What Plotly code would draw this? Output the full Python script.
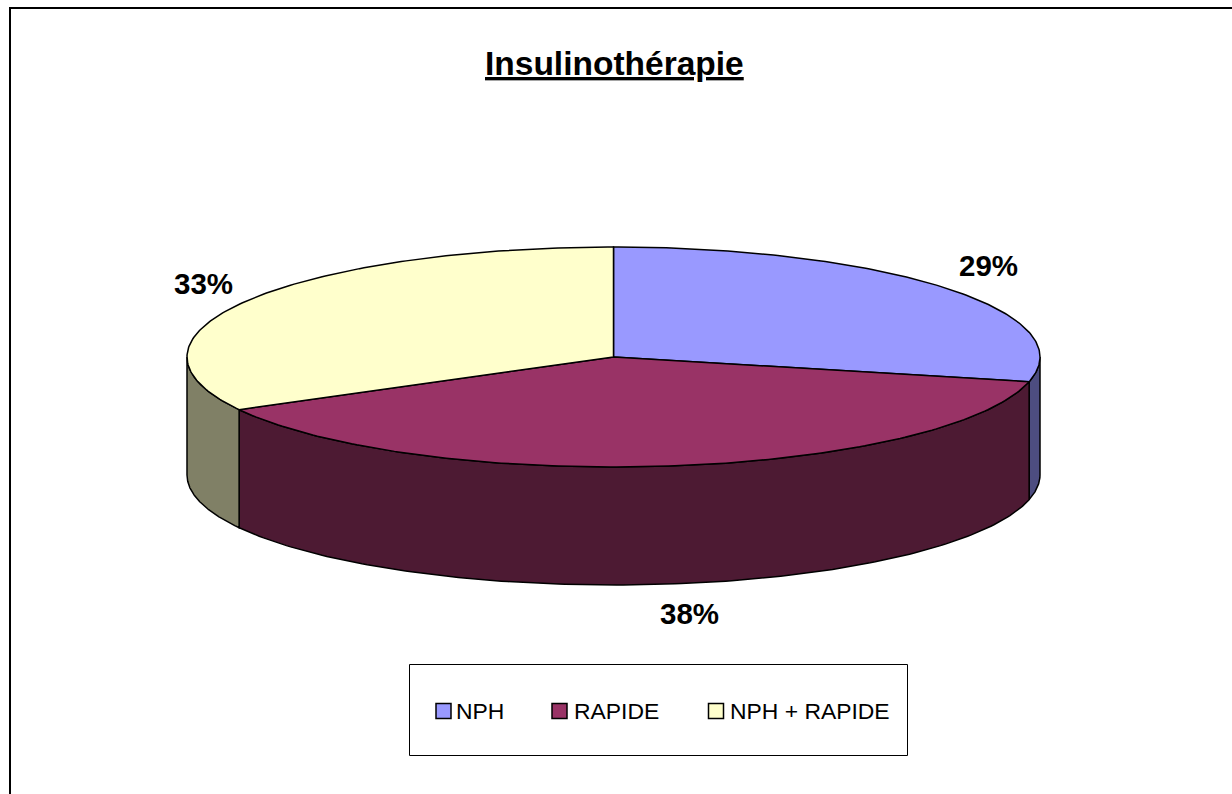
import numpy as np
import plotly.graph_objects as go

categories = ["NPH", "RAPIDE", "NPH + RAPIDE"]
shares = [28.6, 38.45, 32.95]
top_colors = ["#9999FF", "#993366", "#FFFFCC"]
side_colors = ["#4D4D80", "#4D1A33", "#808066"]
title_text = "Insulinothérapie"

CX, CY, RX, RY, DEPTH = 613.5, 357, 426.5, 110, 118
INK = "#000000"


def rim(a0, a1, n=160):
    t = np.radians(np.linspace(a0, a1, n))
    return CX + RX * np.sin(t), CY - RY * np.cos(t)


fig = go.Figure()
edges = np.concatenate([[0], np.cumsum(shares)]) * 360.0 / sum(shares)

# side walls: only the front half (90..270 degrees) of the cylinder is visible
for i in range(len(shares)):
    a0, a1 = max(edges[i], 90), min(edges[i + 1], 270)
    if a1 <= a0:
        continue
    x, y = rim(a0, a1)
    fig.add_trace(go.Scatter(
        x=np.r_[x, x[::-1], x[0]], y=np.r_[y, y[::-1] + DEPTH, y[0]],
        mode="lines", fill="toself", fillcolor=side_colors[i],
        line=dict(color=INK, width=1.5), hoverinfo="skip", showlegend=False))

# top faces
for i in range(len(shares)):
    x, y = rim(edges[i], edges[i + 1])
    fig.add_trace(go.Scatter(
        x=np.r_[CX, x, CX], y=np.r_[CY, y, CY],
        mode="lines", fill="toself", fillcolor=top_colors[i],
        line=dict(color=INK, width=1.5), name=categories[i],
        hovertemplate=f"{categories[i]}: {round(shares[i])}%<extra></extra>",
        showlegend=False))

# legend swatches
swatch_x = [443.5, 559.5, 716]
label_x = [454, 572, 728]
fig.add_trace(go.Scatter(
    x=swatch_x, y=[711, 711, 711], mode="markers",
    marker=dict(symbol="square", size=15, color=top_colors,
                line=dict(color=INK, width=1.5)),
    hoverinfo="skip", showlegend=False))

annotations = [
    dict(x=614, y=63, text=f"<b><u>{title_text}</u></b>",
         font=dict(size=33.5, family="Liberation Sans", color=INK)),
]
pct_pos = [(988.5, 265), (689.5, 613), (203.5, 283)]
for s, (px, py) in zip(shares, pct_pos):
    annotations.append(dict(x=px, y=py, text=f"<b>{round(s)}%</b>",
                            font=dict(size=29.5, family="Liberation Sans", color=INK)))
for c, lx in zip(categories, label_x):
    annotations.append(dict(x=lx, y=710.5, text=c, xanchor="left",
                            font=dict(size=22.9, family="Liberation Sans", color=INK)))
for a in annotations:
    a.update(xref="x", yref="y", showarrow=False)
    a.setdefault("xanchor", "center")
    a["yanchor"] = "middle"

fig.update_layout(
    width=1232, height=794, margin=dict(l=0, r=0, t=0, b=0),
    paper_bgcolor="white", plot_bgcolor="white", showlegend=False,
    xaxis=dict(range=[0, 1232], visible=False, fixedrange=True),
    yaxis=dict(range=[794, 0], visible=False, fixedrange=True),
    annotations=annotations,
    shapes=[
        dict(type="rect", xref="x", yref="y", x0=10, y0=8, x1=1250, y1=810,
             line=dict(color=INK, width=2), layer="below"),
        dict(type="rect", xref="x", yref="y", x0=409.5, y0=664.5, x1=907.5, y1=755.5,
             line=dict(color=INK, width=1), fillcolor="white", layer="below"),
    ],
)
fig.write_html("out.html", config=dict(displayModeBar=False),
               post_script="document.body.style.margin='0';document.body.style.overflow='hidden';")
